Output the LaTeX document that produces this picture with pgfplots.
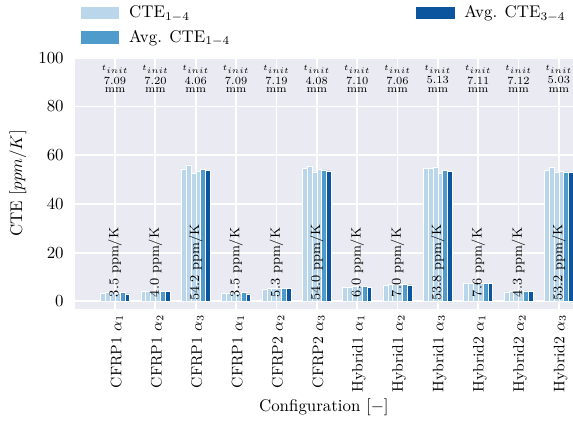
\documentclass[border=0pt]{standalone}
\usepackage{pgfplots}
\pgfplotsset{compat=1.18}
\usepackage{pgfplotstable}
\definecolor{bg}{RGB}{234,234,242}
\definecolor{lightc}{RGB}{185,214,235}
\definecolor{medc}{RGB}{79,155,203}
\definecolor{darkc}{RGB}{11,85,158}

\pgfplotstableread{
x  c1   c2   c3   c4   a14  a34
0  3.4  3.6  3.6  3.3  3.6  3.1
1  4.1  4.2  3.9  4.0  4.1  4.1
2  54.4 56.0 52.6 53.6 54.2 53.8
3  3.4  3.5  3.6  3.3  3.7  3.1
4  5.1  5.2  5.2  5.2  5.3  5.3
5  54.6 55.6 53.0 54.2 54.0 53.6
6  5.7  5.9  6.2  6.2  6.0  5.8
7  6.7  6.9  7.0  6.9  6.9  6.8
8  54.5 54.7 55.2 52.6 53.8 53.5
9  7.5  7.4  7.3  7.3  7.4  7.4
10 3.9  4.1  4.6  4.4  4.3  4.2
11 53.8 55.0 52.8 53.4 53.2 53.0
}\data

\begin{document}
\begin{tikzpicture}
\begin{axis}[
  scale only axis, width=294bp, height=148bp,
  xmin=-1, xmax=11.35, ymin=-3, ymax=100,
  axis background/.style={fill=bg},
  axis line style={draw=none},
  major tick length=0pt,
  grid=major, grid style={white, line width=1.1bp},
  xtick={0,...,11},
  xticklabels={CFRP1 $\alpha_1$, CFRP1 $\alpha_2$, CFRP1 $\alpha_3$, CFRP1 $\alpha_1$, CFRP2 $\alpha_2$, CFRP2 $\alpha_3$, Hybrid1 $\alpha_1$, Hybrid1 $\alpha_2$, Hybrid1 $\alpha_3$, Hybrid2 $\alpha_1$, Hybrid2 $\alpha_2$, Hybrid2 $\alpha_3$},
  xticklabel style={rotate=90, anchor=east, font=\small, yshift=-1bp},
  ytick={0,20,...,100},
  yticklabel style={xshift=-3bp},
  ylabel={CTE $[ppm/K]$},
  xlabel={Configuration $[-]$},
  ylabel style={at={(axis description cs:-0.114,0.5)}, anchor=center},
  xlabel style={at={(axis description cs:0.5,0)}, anchor=center, yshift=-58bp},
  legend columns=2,
  legend style={at={(axis description cs:0,1)}, anchor=north west, xshift=3.5bp, yshift=33bp,
    draw=none, fill=none, inner sep=0pt, row sep=2bp, cells={anchor=west},
    /tikz/every even column/.append style={column sep=107.8bp}},
  bar width=0.12,
]
\addlegendimage{legend image code/.code={\fill[lightc] (0bp,-3.5bp) rectangle (22bp,3.5bp); \path (26bp,0bp);}}
\addlegendentry{CTE$_{1-4}$}
\addlegendimage{legend image code/.code={\fill[darkc] (0bp,-3.5bp) rectangle (22bp,3.5bp); \path (26bp,0bp);}}
\addlegendentry{Avg. CTE$_{3-4}$}
\addlegendimage{legend image code/.code={\fill[medc] (0bp,-3.5bp) rectangle (22bp,3.5bp); \path (26bp,0bp);}}
\addlegendentry{Avg. CTE$_{1-4}$}

\addplot[forget plot, ybar, bar width=0.12, bar shift=-0.30, fill=lightc, draw=white, line width=0.3bp] table[x=x,y=c1]{\data};
\addplot[forget plot, ybar, bar width=0.12, bar shift=-0.18, fill=lightc, draw=white, line width=0.3bp] table[x=x,y=c2]{\data};
\addplot[forget plot, ybar, bar width=0.12, bar shift=-0.06, fill=lightc, draw=white, line width=0.3bp] table[x=x,y=c3]{\data};
\addplot[forget plot, ybar, bar width=0.12, bar shift=0.06, fill=lightc, draw=white, line width=0.3bp] table[x=x,y=c4]{\data};
\addplot[forget plot, ybar, bar width=0.12, bar shift=0.18, fill=medc, draw=white, line width=0.3bp] table[x=x,y=a14]{\data};
\addplot[forget plot, ybar, bar width=0.12, bar shift=0.30, fill=darkc, draw=white, line width=0.3bp] table[x=x,y=a34]{\data};

\foreach \i/\v in {0/3.5,1/4.0,2/54.2,3/3.5,4/5.3,5/54.0,6/6.0,7/7.0,8/53.8,9/7.6,10/4.3,11/53.2} {
  \edef\tmp{\noexpand\node[rotate=90, font=\noexpand\footnotesize, inner sep=0pt] at (axis cs:\i,16) {\v\noexpand\ ppm/K};}
  \tmp
}
\foreach \i/\t in {0/7.09,1/7.20,2/4.06,3/7.09,4/7.19,5/4.08,6/7.10,7/7.06,8/5.13,9/7.11,10/7.12,11/5.03} {
  \edef\tmp{\noexpand\node[font=\noexpand\fontsize{4}{5}\noexpand\selectfont, inner sep=0pt] at (axis cs:\i,95.2) {$t_{init}$};
  \noexpand\node[font=\noexpand\fontsize{6.5}{7}\noexpand\selectfont, inner sep=0pt] at (axis cs:\i,90.7) {\t};
  \noexpand\node[font=\noexpand\fontsize{6.5}{7}\noexpand\selectfont, inner sep=0pt] at (axis cs:\i,86.7) {mm};}
  \tmp
}
\end{axis}
\pgfresetboundingbox
\path[use as bounding box] ([xshift=-44.1bp,yshift=-67.6bp]current axis.south west) rectangle ([yshift=34.1bp]current axis.north east);
\end{tikzpicture}
\end{document}
